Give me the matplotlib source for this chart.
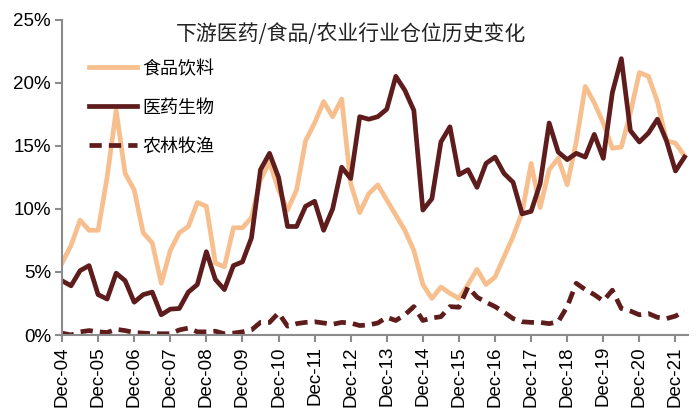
import matplotlib
matplotlib.use("Agg")
import matplotlib.pyplot as plt
import numpy as np

# quarterly holdings share (%), Dec-04 .. Mar-22
food = [5.7, 7.1, 9.1, 8.3, 8.3, 12.5, 17.8, 12.8, 11.5, 8.1,
        7.3, 4.1, 6.7, 8.1, 8.6, 10.5, 10.2, 5.7, 5.4, 8.5,
        8.5, 9.3, 12.3, 13.7, 11.5, 9.9, 11.5, 15.4, 16.8, 18.5,
        17.3, 18.7, 12.0, 9.7, 11.2, 11.9, 10.7, 9.5, 8.3, 6.7,
        4.0, 2.9, 3.8, 3.3, 2.9, 4.0, 5.2, 4.0, 4.6, 6.2,
        7.8, 9.7, 13.6, 10.1, 13.1, 14.0, 11.9, 15.3, 19.7, 18.4,
        16.8, 14.8, 14.9, 17.6, 20.8, 20.5, 18.5, 15.4, 15.2, 14.2]
pharma = [4.3, 3.9, 5.1, 5.5, 3.2, 2.85, 4.9, 4.3, 2.6, 3.2,
          3.4, 1.6, 2.05, 2.1, 3.4, 4.0, 6.6, 4.4, 3.6, 5.5,
          5.8, 7.7, 13.1, 14.4, 12.5, 8.6, 8.6, 10.2, 10.6, 8.3,
          10.0, 13.3, 12.4, 17.3, 17.1, 17.3, 17.9, 20.5, 19.4, 17.8,
          9.9, 10.8, 15.3, 16.5, 12.7, 13.1, 11.7, 13.6, 14.1, 12.8,
          12.1, 9.6, 9.8, 12.0, 16.8, 14.5, 13.9, 14.4, 14.1, 15.9,
          14.0, 19.2, 21.9, 16.2, 15.3, 16.0, 17.1, 15.4, 13.0, 14.1]
agri = [0.15, 0.0, 0.25, 0.35, 0.25, 0.2, 0.45, 0.35, 0.2, 0.15,
        0.1, 0.1, 0.1, 0.4, 0.55, 0.25, 0.25, 0.3, 0.1, 0.15,
        0.25, 0.4, 1.0, 1.0, 1.75, 0.7, 0.9, 1.0, 1.05, 0.95,
        0.85, 1.0, 0.95, 0.75, 0.8, 0.95, 1.4, 1.15, 1.6, 2.25,
        1.15, 1.35, 1.45, 2.25, 2.2, 3.8, 3.0, 2.6, 2.25, 1.8,
        1.3, 1.05, 1.0, 1.0, 0.9, 1.05, 2.25, 4.1, 3.6, 3.2,
        2.7, 3.55, 2.1, 1.9, 1.6, 1.7, 1.4, 1.3, 1.5, 1.9]
tick_labels = ["Dec-%02d" % y for y in range(4, 22)]
series_names = ["食品饮料", "医药生物", "农林牧渔"]
title = "下游医药/食品/农业行业仓位历史变化"

c_food = "#F8BF8E"
c_dark = "#5E1C1C"
cjk = ["Noto Sans CJK SC", "DejaVu Sans"]
plt.rcParams["font.family"] = ["Liberation Sans", "DejaVu Sans"]

fig = plt.figure(figsize=(7, 4.16), dpi=100)
ax = fig.add_axes([0.0886, 0.1947, 0.8944, 0.7583])

x = np.arange(len(food))
lw = 3.4
ax.plot(x, food, color=c_food, lw=lw, label=series_names[0])
ax.plot(x, pharma, color=c_dark, lw=lw, label=series_names[1])
ax.plot(x, agri, color=c_dark, lw=lw, ls=(0, (2.6, 1.5)), dash_capstyle="butt",
        label=series_names[2])

ax.set_xlim(0, 69.4)
ax.set_ylim(0, 25)
ax.set_yticks(np.arange(0, 26, 5))
ax.set_yticklabels(["%d%%" % v for v in range(0, 26, 5)], fontsize=13.5)
ax.set_xticks(np.arange(0, 4 * len(tick_labels), 4))
ax.set_xticklabels(tick_labels, rotation=90, fontsize=13.5)

for s in ["top", "right"]:
    ax.spines[s].set_visible(False)
for s in ["left", "bottom"]:
    ax.spines[s].set_color("#8C8C8C")
    ax.spines[s].set_linewidth(1.5)
ax.tick_params(axis="both", color="#8C8C8C", width=1.5, length=5, direction="out", pad=3)

ax.text(0.462, 0.953, title, transform=ax.transAxes, ha="center", va="center",
        fontsize=15, family=cjk, color="#222222")

leg = ax.legend(loc="upper left", bbox_to_anchor=(0.017, 0.924), frameon=False,
                prop={"family": cjk, "size": 13}, handlelength=2.65,
                handletextpad=0.3, labelspacing=1.15)

fig.savefig("out.png", dpi=100)
